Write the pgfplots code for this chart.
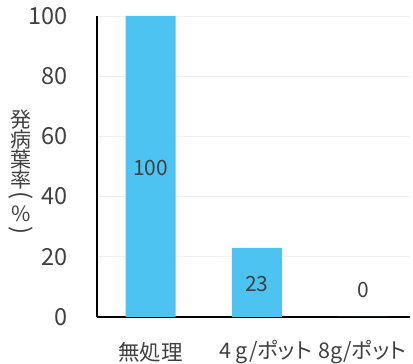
\documentclass[border=0pt]{standalone}
\usepackage{fontspec}
\setmainfont{Noto Sans CJK JP}
\usepackage{graphicx}
\usepackage{pgfplots}
\pgfplotsset{compat=1.18}
\definecolor{barblue}{HTML}{4DC3F1}
\definecolor{txt}{HTML}{404040}
\definecolor{gridc}{HTML}{F0F0F0}
\begin{document}
\begin{tikzpicture}
\begin{axis}[
  at={(97pt,47pt)}, anchor=south west,
  scale only axis, width=313pt, height=301pt,
  xmin=-0.505, xmax=2.44, ymin=0, ymax=100,
  axis x line*=bottom, axis y line*=left,
  xtick={0,1.08,1.99}, xticklabels={無処理, 4 g/ポット, 8g/ポット},
  ytick={0,20,...,100},
  ymajorgrids, major grid style={gridc, line width=0.8pt},
  major tick length=0pt,
  axis line style={black, line width=1.6pt},
  /pgf/number format/assume math mode=true,
  yticklabel style={anchor=east, inner sep=0pt, xshift=-29pt, font=\fontsize{23.5}{24}\selectfont, text=txt},
  xticklabel style={anchor=center, inner sep=0pt, yshift=-35pt, font=\fontsize{21.5}{22}\selectfont\addfontfeatures{CharacterWidth=AlternateProportional}, text=txt},
  clip=false,
]
\addplot[ybar, bar width=50pt, fill=barblue, draw=none] coordinates {(0,100) (1,23) (2,0)};
\addplot[only marks, mark=none, nodes near coords, point meta=explicit symbolic,
  nodes near coords style={anchor=center, inner sep=0pt, font=\fontsize{21}{21}\selectfont, text=txt}]
  coordinates {(0,49.5) [100] (1,10.8) [23] (2,9) [0]};
\end{axis}
\node[font=\fontsize{21}{20}\selectfont, align=center, text=txt, inner sep=0pt] at (21pt,190pt) {発\\病\\葉\\率\\[-4pt]\rotatebox[origin=c]{-90}{\fontsize{24}{24}\selectfont (}\\[-2pt]\%\\[-3pt]\rotatebox[origin=c]{-90}{\fontsize{24}{24}\selectfont )}};
\pgfresetboundingbox
\path[use as bounding box] (0,0) rectangle (413pt,364pt);
\end{tikzpicture}
\end{document}
